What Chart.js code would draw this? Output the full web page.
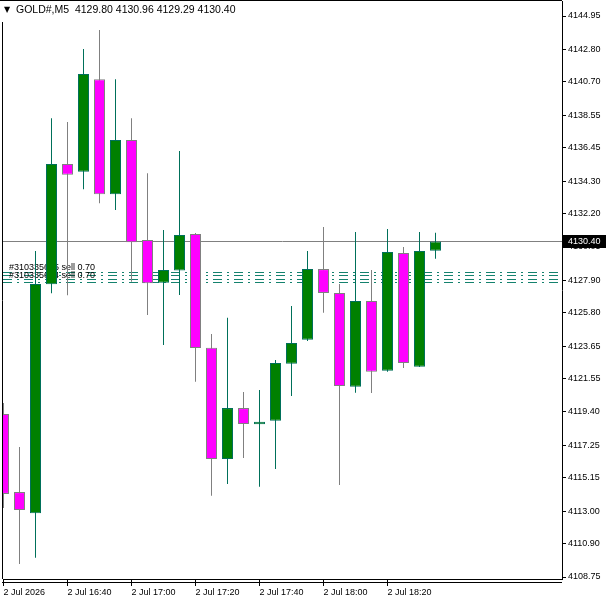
<!DOCTYPE html>
<html>
<head>
<meta charset="utf-8">
<script src="https://cdn.jsdelivr.net/npm/chart.js@4.4.1/dist/chart.umd.min.js"></script>
<style>
  html, body { margin: 0; padding: 0; background: #fff; }
  #wrap { width: 608px; height: 604px; }
</style>
</head>
<body>
<div id="wrap"><canvas id="goldChart" width="608" height="604"></canvas></div>
<script>
// GOLD#, M5 candles, 2 Jul 2026 16:20 .. 18:35
var symbol = "GOLD#,M5";
var times = ["16:20","16:25","16:30","16:35","16:40","16:45","16:50","16:55","17:00","17:05",
    "17:10","17:15","17:20","17:25","17:30","17:35","17:40","17:45","17:50","17:55",
    "18:00","18:05","18:10","18:15","18:20","18:25","18:30","18:35"];
var opens  = [4119.27,4114.23,4112.86,4127.64,4135.40,4134.90,4140.87,4133.44,4136.95,4130.50,
    4127.74,4128.52,4130.88,4123.55,4116.36,4119.65,4118.60,4118.84,4122.51,4124.06,
    4128.62,4127.08,4121.03,4126.56,4122.06,4129.66,4122.32,4129.80];
var highs  = [4119.98,4117.14,4129.79,4138.35,4138.11,4142.82,4144.05,4140.87,4138.35,4134.80,
    4131.14,4136.24,4130.95,4124.43,4125.48,4120.69,4120.82,4122.75,4126.24,4129.79,
    4131.33,4127.66,4131.01,4128.56,4131.21,4130.04,4131.01,4130.96];
var lows   = [4113.20,4109.59,4110.00,4127.06,4126.93,4133.77,4132.86,4132.43,4127.80,4125.66,
    4123.72,4126.95,4121.35,4114.00,4114.75,4116.43,4114.58,4115.72,4120.43,4123.98,
    4125.80,4114.69,4120.64,4120.62,4122.00,4122.24,4122.30,4129.29];
var closes = [4114.11,4113.07,4127.66,4135.40,4134.71,4141.21,4133.44,4136.95,4130.35,4127.70,
    4128.56,4130.82,4123.53,4116.36,4119.65,4118.62,4118.76,4122.56,4123.85,4128.62,
    4127.08,4121.07,4126.56,4122.00,4129.72,4122.56,4129.78,4130.40];

var xTickIdx  = [0, 4, 8, 12, 16, 20, 24];
var xTickText = ["2 Jul 2026","2 Jul 16:40","2 Jul 17:00","2 Jul 17:20","2 Jul 17:40","2 Jul 18:00","2 Jul 18:20"];
var yTicks = [4144.95,4142.80,4140.70,4138.55,4136.45,4134.30,4132.20,4130.05,4127.90,
    4125.80,4123.65,4121.55,4119.40,4117.25,4115.15,4113.00,4110.90,4108.75];

var bidPrice = 4130.40;
var orderPrices = [4128.41, 4128.22, 4128.01, 4127.81];
var orderLabels = ["#310335615 sell 0.70", "#310335614 sell 0.70"];

var font = "'Liberation Sans', Arial, sans-serif";
var bullFill = "rgb(0,128,0)", bullLine = "rgb(0,112,90)";
var bearFill = "rgb(255,0,255)", bearLine = "rgb(128,128,128)";

var isBull = closes.map(function(c, i){ return c >= opens[i]; });

var bodies = opens.map(function(o, i){ return {x: i, y: [o, closes[i]]}; });
var wicks  = lows.map(function(l, i){ return {x: i, y: [l, highs[i]]}; });

Chart.defaults.font.family = font;
Chart.defaults.font.size = 9;
Chart.defaults.color = "#000";

var mt4Extras = {
    id: "mt4Extras",
    beforeDatasetsDraw: function(chart){
        var c = chart.ctx, a = chart.chartArea, y = chart.scales.y;
        c.save();
        // bid line
        var by = Math.round(y.getPixelForValue(bidPrice)) + 0.5;
        c.strokeStyle = "#808080"; c.lineWidth = 1;
        c.beginPath(); c.moveTo(a.left, by); c.lineTo(a.right, by); c.stroke();
        // order lines
        c.strokeStyle = "rgb(20,130,110)";
        c.setLineDash([9, 5, 2, 5]);
        orderPrices.forEach(function(p){
            var py = Math.round(y.getPixelForValue(p)) + 0.5;
            c.beginPath(); c.moveTo(a.left, py); c.lineTo(a.right, py); c.stroke();
        });
        c.setLineDash([]);
        c.fillStyle = "#000";
        c.font = "9px " + font;
        c.textBaseline = "alphabetic";
        c.fillText(orderLabels[0], 9, Math.round(y.getPixelForValue(orderPrices[0])) - 2);
        c.fillText(orderLabels[1], 9, Math.round(y.getPixelForValue(orderPrices[2])) - 1);
        c.restore();
    },
    afterDraw: function(chart){
        var c = chart.ctx, a = chart.chartArea, y = chart.scales.y;
        c.save();
        c.strokeStyle = "#000"; c.lineWidth = 1;
        c.beginPath();
        c.moveTo(0, 0.5); c.lineTo(a.right, 0.5);
        c.moveTo(a.left - 0.5, 22); c.lineTo(a.left - 0.5, a.bottom);
        c.moveTo(a.left - 1, a.bottom + 3.5); c.lineTo(a.right, a.bottom + 3.5);
        c.stroke();
        // bid price box on the axis
        var by = Math.round(y.getPixelForValue(bidPrice));
        c.fillStyle = "#000";
        c.fillRect(a.right, by - 6, 44, 13);
        c.fillStyle = "#fff";
        c.font = "9px " + font;
        c.textBaseline = "middle";
        c.fillText(bidPrice.toFixed(2), a.right + 6, by + 0.5);
        // title
        c.fillStyle = "#000";
        c.font = "8px 'DejaVu Sans'";
        c.fillText("\u25BC", 4, 10);
        c.font = "10.5px " + font;
        c.fillText(symbol + "  " + opens[opens.length - 1].toFixed(2) + " " +
            highs[highs.length - 1].toFixed(2) + " " + lows[lows.length - 1].toFixed(2) + " " +
            closes[closes.length - 1].toFixed(2), 16, 10);
        c.restore();
    }
};

var ctx = document.getElementById("goldChart");
var goldChart = new Chart(ctx, {
    type: "bar",
    data: {
        labels: times,
        datasets: [{
            label: "body",
            data: bodies,
            order: 0,
            barThickness: 11,
            borderWidth: 1,
            borderSkipped: false,
            inflateAmount: 0,
            backgroundColor: isBull.map(function(b){ return b ? bullFill : bearFill; }),
            borderColor: isBull.map(function(b){ return b ? bullLine : bearLine; })
        }, {
            label: "wick",
            data: wicks,
            order: 1,
            barThickness: 1,
            borderWidth: 0,
            inflateAmount: 0,
            backgroundColor: isBull.map(function(b){ return b ? bullLine : bearLine; })
        }]
    },
    options: {
        responsive: false,
        animation: false,
        devicePixelRatio: 1,
        layout: { padding: { left: 3, top: 1, right: 0, bottom: 0 } },
        datasets: { bar: { grouped: false } },
        plugins: { legend: { display: false }, tooltip: { enabled: false } },
        scales: {
            x: {
                type: "linear",
                offset: false,
                min: -0.03125,
                max: 34.90625,
                afterBuildTicks: function(s){ s.ticks = xTickIdx.map(function(v){ return {value: v}; }); },
                afterFit: function(s){ s.height = 25; s.paddingLeft = 0; s.paddingRight = 0; },
                ticks: {
                    autoSkip: false, maxRotation: 0, align: "start", padding: 1,
                    callback: function(v, i){ return xTickText[i]; }
                },
                grid: { offset: false, drawOnChartArea: false, tickLength: 7, color: "#000" },
                border: { display: true, color: "#000" }
            },
            y: {
                position: "right",
                min: 4108.621,
                max: 4145.918,
                afterBuildTicks: function(s){ s.ticks = yTicks.map(function(v){ return {value: v}; }); },
                afterFit: function(s){ s.width = 46; s.paddingTop = 0; s.paddingBottom = 0; },
                ticks: {
                    autoSkip: false, padding: 2,
                    callback: function(v){ return v.toFixed(2); }
                },
                grid: { drawOnChartArea: false, tickLength: 4, color: "#000" },
                border: { display: true, color: "#000" }
            }
        }
    },
    plugins: [mt4Extras]
});
</script>
</body>
</html>
